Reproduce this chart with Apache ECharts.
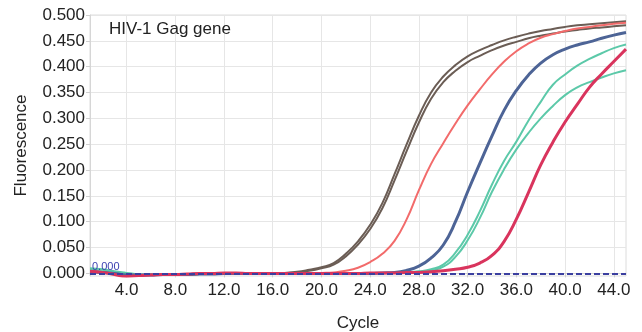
<!DOCTYPE html>
<html>
<head>
<meta charset="utf-8">
<script src="https://cdn.jsdelivr.net/npm/echarts@6/dist/echarts.min.js"></script>
<style>
html, body { margin: 0; padding: 0; background: #fff; }
#echarts { width: 642px; height: 332px; }
</style>
</head>
<body>
<div id="echarts"></div>
<script>
var cycles = [1,2,3,4,5,6,7,8,9,10,11,12,13,14,15,16,17,18,19,20,21,22,23,24,25,26,27,28,29,30,31,32,33,34,35,36,37,38,39,40,41,42,43,44,45];
var xTicks = [4,8,12,16,20,24,28,32,36,40,44];
var yTicks = [0,0.05,0.1,0.15,0.2,0.25,0.3,0.35,0.4,0.45,0.5];

// fluorescence per cycle
var brownA = [0.004,0.003,0.001,-0.002,-0.003,-0.003,-0.002,-0.003,-0.002,-0.001,-0.001,0.000,0.000,-0.001,0.000,0.000,0.001,0.003,0.007,0.012,0.020,0.038,0.062,0.094,0.136,0.192,0.250,0.305,0.350,0.381,0.403,0.420,0.432,0.442,0.451,0.458,0.464,0.469,0.473,0.477,0.480,0.482,0.484,0.486,0.488];
var brownB = [0.003,0.002,0.000,-0.002,-0.003,-0.002,-0.003,-0.002,-0.002,-0.001,0.000,-0.001,0.000,0.000,-0.001,0.000,0.001,0.002,0.005,0.010,0.017,0.033,0.056,0.086,0.126,0.180,0.237,0.292,0.338,0.370,0.392,0.409,0.421,0.432,0.441,0.448,0.455,0.460,0.464,0.468,0.471,0.474,0.476,0.478,0.480];
var salmon = [0.002,0.002,0.001,-0.003,-0.004,-0.003,-0.002,-0.002,-0.001,-0.001,0.000,0.000,0.001,0.000,0.000,0.000,0.000,0.000,0.000,0.001,0.002,0.005,0.011,0.022,0.038,0.063,0.105,0.161,0.212,0.252,0.290,0.325,0.356,0.385,0.410,0.430,0.445,0.456,0.463,0.469,0.474,0.477,0.480,0.483,0.485];
var teal1 = [0.010,0.008,0.004,0.001,-0.002,-0.003,-0.002,-0.003,-0.002,-0.001,-0.001,0.000,0.000,-0.001,0.000,0.000,0.000,0.000,0.000,0.000,0.000,0.000,0.001,0.001,0.001,0.001,0.002,0.004,0.008,0.017,0.040,0.075,0.120,0.172,0.218,0.255,0.296,0.332,0.365,0.385,0.402,0.415,0.426,0.436,0.443];
var teal2 = [0.008,0.007,0.003,0.000,-0.002,-0.003,-0.003,-0.002,-0.002,-0.001,0.000,-0.001,0.000,0.000,0.000,0.000,0.000,0.000,0.000,0.000,0.000,0.000,0.000,0.001,0.001,0.001,0.002,0.003,0.006,0.013,0.032,0.064,0.107,0.158,0.202,0.240,0.272,0.300,0.324,0.345,0.360,0.370,0.379,0.387,0.393];
var navy = [0.003,0.002,0.000,-0.003,-0.003,-0.003,-0.002,-0.002,-0.002,-0.001,-0.001,0.000,0.000,0.000,0.000,0.000,0.000,0.000,0.000,0.000,0.000,0.000,0.000,0.000,0.001,0.002,0.006,0.014,0.030,0.055,0.100,0.158,0.213,0.266,0.316,0.354,0.384,0.407,0.423,0.434,0.442,0.448,0.455,0.461,0.466];
var crimson = [0.004,0.002,-0.002,-0.006,-0.004,-0.003,-0.002,-0.002,-0.001,0.000,0.000,0.001,0.001,0.000,0.000,0.000,0.000,0.000,0.000,0.000,0.000,0.000,0.000,0.001,0.001,0.001,0.002,0.002,0.003,0.005,0.008,0.012,0.020,0.035,0.062,0.105,0.157,0.210,0.254,0.293,0.327,0.360,0.386,0.410,0.434];
var threshold = 0;

var myChart = echarts.init(document.getElementById('echarts'));

function pairs(vals) {
    return cycles.map(function (c, i) { return [c, vals[i]]; });
}
function curve(name, vals, color, width) {
    return {
        name: name,
        type: 'line',
        data: pairs(vals),
        smooth: true,
        showSymbol: false,
        lineStyle: { color: color, width: width },
        itemStyle: { color: color }
    };
}

var textFont = 'Liberation Sans';

option = {
    animation: false,
    title: {
        text: 'HIV-1 Gag gene',
        left: 104,
        top: 16,
        textStyle: { fontSize: 17, fontWeight: 'normal', color: '#222', fontFamily: textFont }
    },
    grid: {
        left: 90,
        right: 16,
        top: 15,
        bottom: 56,
        outerBoundsMode: 'none',
        show: true,
        borderColor: '#dcdcdc',
        borderWidth: 1
    },
    xAxis: {
        type: 'value',
        min: 1,
        max: 45,
        name: 'Cycle',
        nameLocation: 'middle',
        nameGap: 39,
        nameTextStyle: { fontSize: 17, color: '#222', fontFamily: textFont },
        axisLine: { show: true, lineStyle: { color: '#d6d6d6' } },
        axisTick: { show: true, customValues: xTicks, length: 4, lineStyle: { color: '#cfcfcf' } },
        axisLabel: {
            customValues: xTicks,
            fontSize: 17,
            color: '#222',
            fontFamily: textFont,
            margin: 6,
            formatter: function (v) { return v.toFixed(1); }
        },
        splitLine: { show: true, lineStyle: { color: '#e6e6e6' } }
    },
    yAxis: {
        type: 'value',
        min: -0.005,
        max: 0.5,
        name: 'Fluorescence',
        nameLocation: 'middle',
        nameGap: 60,
        nameTextStyle: { fontSize: 17, color: '#222', fontFamily: textFont },
        axisLine: { show: true, lineStyle: { color: '#d6d6d6' } },
        axisTick: { show: true, customValues: yTicks, length: 4, lineStyle: { color: '#cfcfcf' } },
        axisLabel: {
            customValues: yTicks,
            fontSize: 17,
            color: '#222',
            fontFamily: textFont,
            margin: 5,
            formatter: function (v) { return v.toFixed(3); }
        },
        splitLine: { show: true, lineStyle: { color: '#e6e6e6' } }
    },
    series: [
        curve('brownA', brownA, '#6b5d55', 2),
        curve('brownB', brownB, '#6b5d55', 2),
        curve('salmon', salmon, '#f26b6b', 2),
        curve('teal1', teal1, '#5cc9a9', 2),
        curve('teal2', teal2, '#5cc9a9', 2),
        curve('navy', navy, '#4d6496', 3),
        curve('crimson', crimson, '#d9345d', 3),
        {
            name: 'threshold',
            type: 'line',
            data: [],
            z: 10,
            markLine: {
                silent: true,
                symbol: 'none',
                lineStyle: { color: '#3b3fa0', width: 2, type: [6, 3] },
                label: {
                    position: 'insideStartTop',
                    distance: [2, 1],
                    formatter: '0.000',
                    fontSize: 11,
                    color: '#3b3fb0',
                    fontFamily: textFont
                },
                data: [{ yAxis: threshold }]
            }
        }
    ]
};

myChart.setOption(option);
</script>
</body>
</html>
